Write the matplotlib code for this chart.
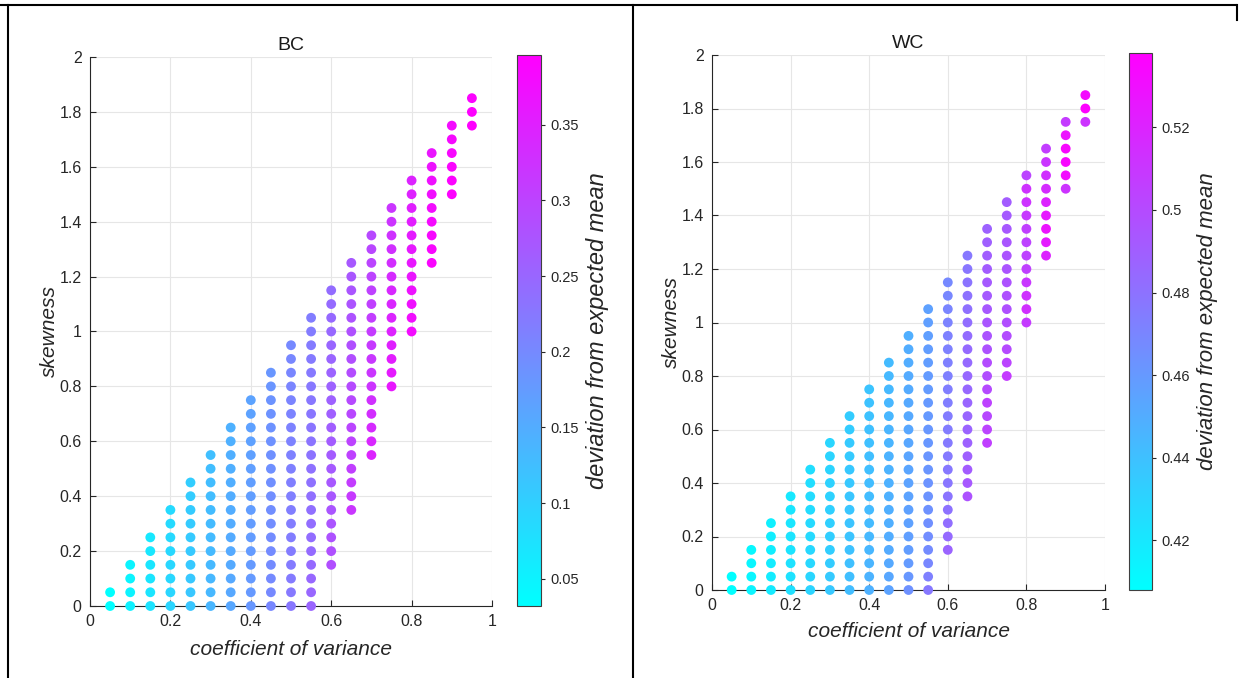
import numpy as np
import matplotlib
matplotlib.use('Agg')
import matplotlib.pyplot as plt
from matplotlib.lines import Line2D
from matplotlib.ticker import FormatStrFormatter

plt.rcParams['font.family'] = ['Liberation Sans', 'DejaVu Sans']

# coefficient of variance columns and the lowest skewness in each column (grid step 0.05)
cv = [0.05, 0.10, 0.15, 0.20, 0.25, 0.30, 0.35, 0.40, 0.45, 0.50,
      0.55, 0.60, 0.65, 0.70, 0.75, 0.80, 0.85, 0.90, 0.95]
skew_min = [0, 0, 0, 0, 0, 0, 0, 0, 0, 0,
            0, 0.15, 0.35, 0.55, 0.80, 1.00, 1.25, 1.50, 1.75]
skew_step = 0.05

# deviation from expected mean, per column, from lowest skewness upwards
bc_dev = [
    [0.034, 0.033],
    [0.052, 0.050, 0.049, 0.048],
    [0.072, 0.070, 0.069, 0.068, 0.067, 0.066],
    [0.093, 0.091, 0.090, 0.089, 0.088, 0.087, 0.086, 0.085],
    [0.114, 0.112, 0.111, 0.110, 0.109, 0.108, 0.107, 0.106, 0.105, 0.104],
    [0.136, 0.134, 0.133, 0.132, 0.131, 0.130, 0.129, 0.128, 0.127, 0.126, 0.125, 0.124],
    [0.158, 0.156, 0.155, 0.154, 0.153, 0.152, 0.151, 0.150, 0.149, 0.148, 0.147, 0.146, 0.145, 0.144],
    [0.180, 0.178, 0.177, 0.176, 0.175, 0.174, 0.173, 0.172, 0.171, 0.170, 0.169, 0.168, 0.167, 0.166,
     0.165, 0.163],
    [0.203, 0.200, 0.199, 0.198, 0.197, 0.196, 0.195, 0.194, 0.193, 0.192, 0.191, 0.190, 0.189, 0.188,
     0.187, 0.186, 0.184, 0.182],
    [0.226, 0.223, 0.221, 0.220, 0.219, 0.218, 0.217, 0.216, 0.215, 0.214, 0.213, 0.212, 0.211, 0.210,
     0.209, 0.208, 0.206, 0.205, 0.203, 0.201],
    [0.252, 0.249, 0.247, 0.245, 0.243, 0.241, 0.240, 0.238, 0.237, 0.235, 0.234, 0.232, 0.231, 0.229,
     0.228, 0.226, 0.225, 0.223, 0.222, 0.220, 0.219, 0.217],
    [0.285, 0.282, 0.279, 0.276, 0.274, 0.272, 0.270, 0.268, 0.266, 0.264, 0.262, 0.260, 0.258, 0.256,
     0.254, 0.252, 0.250, 0.248, 0.246, 0.244, 0.242],
    [0.318, 0.314, 0.310, 0.306, 0.303, 0.300, 0.297, 0.294, 0.292, 0.290, 0.287, 0.285, 0.283, 0.281,
     0.279, 0.277, 0.275, 0.273, 0.270],
    [0.345, 0.340, 0.335, 0.331, 0.327, 0.323, 0.320, 0.317, 0.314, 0.311, 0.308, 0.305, 0.303, 0.300,
     0.298, 0.296, 0.293],
    [0.362, 0.358, 0.354, 0.350, 0.347, 0.344, 0.341, 0.338, 0.335, 0.332, 0.329, 0.326, 0.323, 0.320],
    [0.378, 0.375, 0.372, 0.369, 0.366, 0.363, 0.360, 0.357, 0.354, 0.351, 0.348, 0.345],
    [0.388, 0.386, 0.384, 0.381, 0.378, 0.375, 0.372, 0.369, 0.366],
    [0.393, 0.391, 0.389, 0.386, 0.383, 0.380],
    [0.396, 0.394, 0.391],
]

wc_dev = [
    [0.409, 0.409],
    [0.414, 0.413, 0.413, 0.412],
    [0.419, 0.418, 0.418, 0.417, 0.417, 0.416],
    [0.424, 0.423, 0.423, 0.422, 0.422, 0.421, 0.421, 0.420],
    [0.430, 0.429, 0.428, 0.428, 0.427, 0.427, 0.426, 0.426, 0.425, 0.425],
    [0.436, 0.435, 0.434, 0.433, 0.433, 0.432, 0.432, 0.431, 0.431, 0.430, 0.430, 0.429],
    [0.442, 0.441, 0.440, 0.439, 0.438, 0.438, 0.437, 0.437, 0.436, 0.436, 0.435, 0.435, 0.434, 0.434],
    [0.448, 0.447, 0.446, 0.445, 0.444, 0.443, 0.443, 0.442, 0.442, 0.441, 0.441, 0.440, 0.440, 0.439,
     0.439, 0.438],
    [0.455, 0.453, 0.452, 0.451, 0.450, 0.449, 0.449, 0.448, 0.448, 0.447, 0.447, 0.446, 0.446, 0.445,
     0.445, 0.444, 0.444, 0.443],
    [0.464, 0.461, 0.459, 0.458, 0.457, 0.456, 0.456, 0.455, 0.455, 0.454, 0.454, 0.453, 0.453, 0.452,
     0.452, 0.451, 0.451, 0.450, 0.450, 0.449],
    [0.477, 0.473, 0.469, 0.467, 0.466, 0.465, 0.464, 0.463, 0.463, 0.462, 0.462, 0.461, 0.461, 0.460,
     0.460, 0.459, 0.459, 0.458, 0.458, 0.457, 0.457, 0.456],
    [0.487, 0.484, 0.482, 0.480, 0.479, 0.478, 0.477, 0.476, 0.476, 0.475, 0.475, 0.474, 0.474, 0.473,
     0.473, 0.472, 0.472, 0.471, 0.470, 0.469, 0.468],
    [0.496, 0.493, 0.491, 0.489, 0.488, 0.487, 0.486, 0.486, 0.485, 0.485, 0.484, 0.484, 0.483, 0.482,
     0.481, 0.480, 0.479, 0.478, 0.477],
    [0.506, 0.503, 0.501, 0.504, 0.500, 0.498, 0.499, 0.496, 0.495, 0.494, 0.493, 0.492, 0.492, 0.491,
     0.490, 0.489, 0.488],
    [0.508, 0.503, 0.500, 0.499, 0.498, 0.497, 0.497, 0.496, 0.495, 0.495, 0.494, 0.493, 0.492, 0.491],
    [0.508, 0.514, 0.513, 0.510, 0.505, 0.504, 0.504, 0.506, 0.509, 0.512, 0.513, 0.503],
    [0.520, 0.524, 0.528, 0.525, 0.520, 0.516, 0.514, 0.511, 0.507],
    [0.512, 0.531, 0.534, 0.534, 0.528, 0.508],
    [0.512, 0.537, 0.532],
]

bc_clim = (0.032, 0.396)
wc_clim = (0.408, 0.538)
bc_cticks = [0.05, 0.1, 0.15, 0.2, 0.25, 0.3, 0.35]
wc_cticks = [0.42, 0.44, 0.46, 0.48, 0.5, 0.52]

W, H = 1252, 678


def fig_rect(x0, y0, x1, y1):
    # pixel box (top-left origin) -> figure fraction rect
    return [x0 / W, 1 - y1 / H, (x1 - x0) / W, (y1 - y0) / H]


def points(dev):
    xs, ys, cs = [], [], []
    for x, y0, vals in zip(cv, skew_min, dev):
        for i, v in enumerate(vals):
            xs.append(x)
            ys.append(y0 + i * skew_step)
            cs.append(v)
    return xs, ys, cs


def panel(fig, ax_box, cb_box, dev, clim, cticks, title, cb_size, xpad):
    ax = fig.add_axes(fig_rect(*ax_box))
    cax = fig.add_axes(fig_rect(*cb_box))
    xs, ys, cs = points(dev)
    sc = ax.scatter(xs, ys, c=cs, cmap='cool', vmin=clim[0], vmax=clim[1],
                    s=50, linewidths=0, zorder=3, clip_on=False)
    ax.set_xlim(0, 1)
    ax.set_ylim(0, 2)
    ax.set_xticks(np.arange(0, 1.01, 0.2))
    ax.set_yticks(np.arange(0, 2.01, 0.2))
    ax.xaxis.set_major_formatter(FormatStrFormatter('%g'))
    ax.yaxis.set_major_formatter(FormatStrFormatter('%g'))
    ax.grid(True, color='#e6e6e6', linewidth=0.8, zorder=0)
    ax.set_axisbelow(True)
    for s in ['top', 'right']:
        ax.spines[s].set_visible(False)
    for s in ['left', 'bottom']:
        ax.spines[s].set_color('#262626')
        ax.spines[s].set_linewidth(0.8)
    ax.tick_params(direction='in', length=4, width=0.8, colors='#262626',
                   labelsize=11.5, pad=6)
    ax.set_xlabel('coefficient of variance', fontsize=15, style='italic',
                  color='#262626', labelpad=xpad)
    ax.set_ylabel('skewness', fontsize=15, style='italic', color='#262626',
                  labelpad=0)
    ax.set_title(title, fontsize=14, color='#1a1a1a', pad=5)

    cb = fig.colorbar(sc, cax=cax)
    cb.set_ticks(cticks)
    cb.ax.yaxis.set_major_formatter(FormatStrFormatter('%g'))
    cb.outline.set_edgecolor('#404040')
    cb.outline.set_linewidth(0.8)
    cb.ax.tick_params(direction='out', length=3, width=0.8, colors='#262626',
                      labelsize=10.5, pad=4)
    cb.set_label('deviation from expected mean', fontsize=cb_size, style='italic',
                 color='#262626', labelpad=5)
    return ax


fig = plt.figure(figsize=(W / 100, H / 100), dpi=100)

panel(fig, (90, 57, 492, 606), (517, 55, 541, 606), bc_dev, bc_clim, bc_cticks, 'BC', 17, 8)
panel(fig, (712, 55, 1105, 590), (1129, 53, 1152, 590), wc_dev, wc_clim, wc_cticks, 'WC', 16, 6)

# table frame around the two panels
def frame_line(x0, y0, x1, y1):
    fig.add_artist(Line2D([x0 / W, x1 / W], [1 - y0 / H, 1 - y1 / H],
                          color='black', linewidth=1.5, transform=fig.transFigure))

frame_line(0, 5, 1236, 5)
frame_line(8, 5, 8, 678)
frame_line(633, 5, 633, 678)
frame_line(1237, 5, 1237, 20)

fig.savefig('out.png', dpi=100)
